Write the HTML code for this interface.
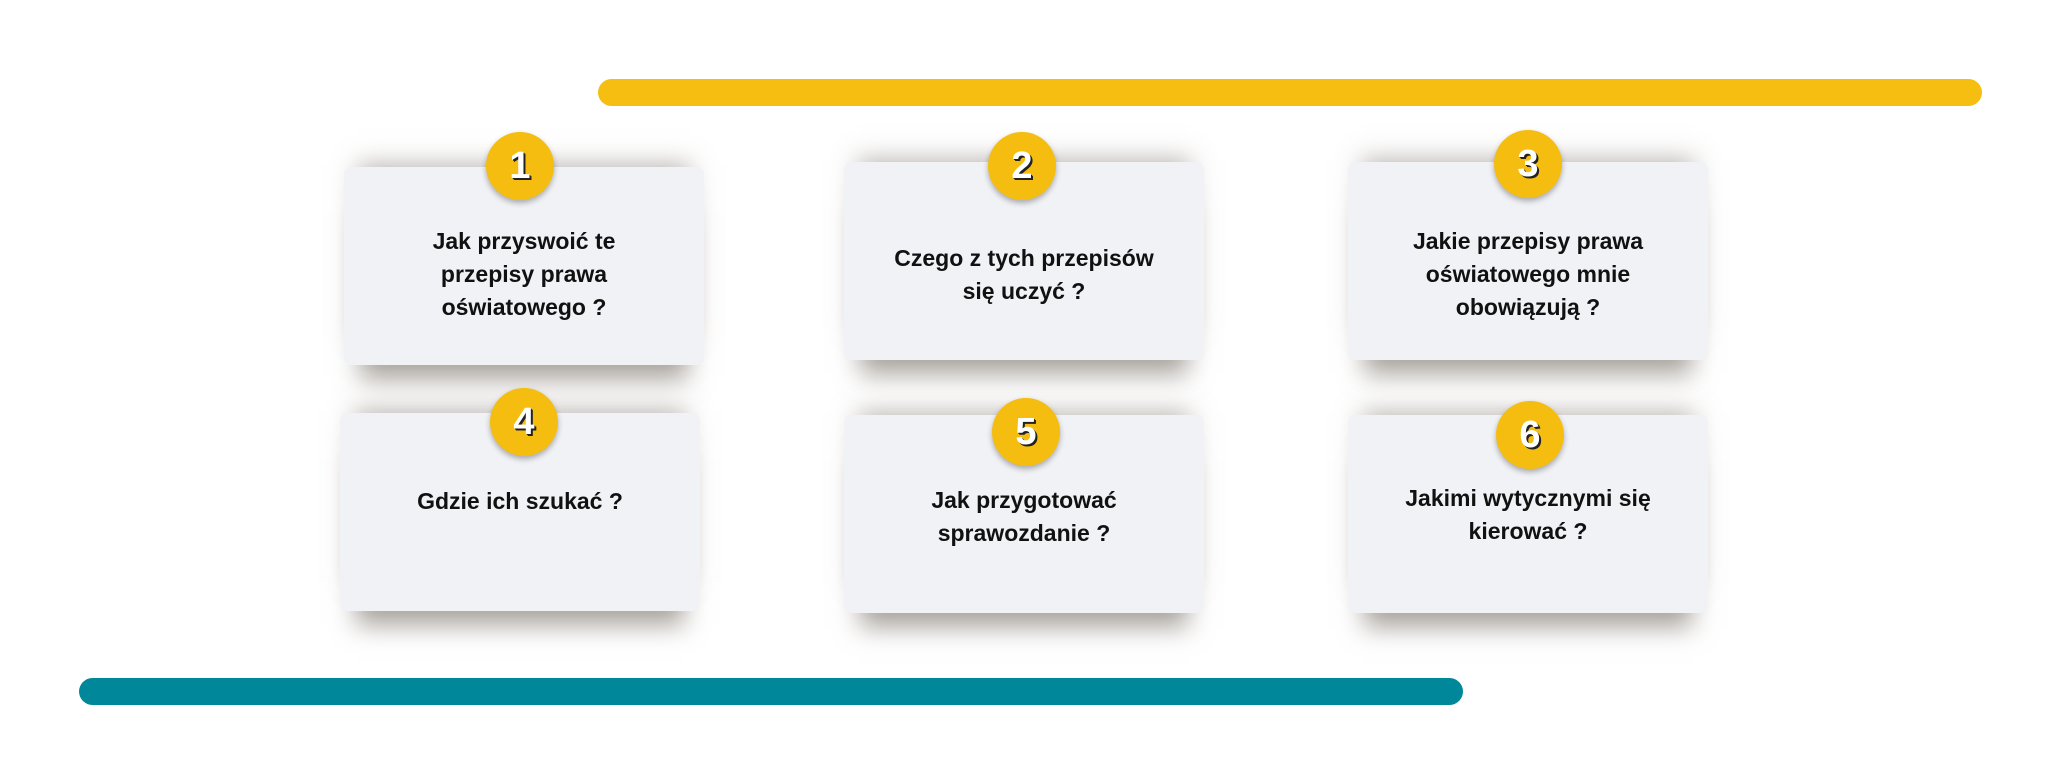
<!DOCTYPE html>
<html><head><meta charset="utf-8"><style>
html,body{margin:0;padding:0;background:#fff;width:2050px;height:780px;overflow:hidden;position:relative;font-family:"Liberation Sans",sans-serif}
.bar{position:absolute;height:27px;border-radius:14px}
.card{position:absolute;width:360px;height:198px;background:#f1f2f6;border-radius:7px;
box-shadow:0 30px 24px -16px rgba(110,100,90,.6),0 -16px 24px -14px rgba(110,100,90,.5)}
.t{position:absolute;left:0;width:360px;text-align:center;font-weight:bold;font-size:23px;line-height:33px;color:#111}
.c{position:absolute;width:68px;height:68px;border-radius:50%;background:#f4bd10;
box-shadow:0 3px 6px rgba(0,0,0,.3);color:#fff;font-weight:bold;font-size:38px;line-height:68px;text-align:center;
text-shadow:2px 2px 0 #222,1px 1px 0 #222}
</style></head><body>
<div class="bar" style="left:598px;top:79px;width:1384px;background:#f5be10"></div>
<div class="bar" style="left:79px;top:678px;width:1384px;background:#00889a"></div>

<div class="card" style="left:344px;top:167px"><div class="t" style="top:58px">Jak przyswoić te<br>przepisy prawa<br>oświatowego ?</div></div>
<div class="card" style="left:844px;top:162px"><div class="t" style="top:80px">Czego z tych przepisów<br>się uczyć ?</div></div>
<div class="card" style="left:1348px;top:162px"><div class="t" style="top:63px">Jakie przepisy prawa<br>oświatowego mnie<br>obowiązują ?</div></div>
<div class="card" style="left:340px;top:413px"><div class="t" style="top:72px">Gdzie ich szukać ?</div></div>
<div class="card" style="left:844px;top:415px"><div class="t" style="top:69px">Jak przygotować<br>sprawozdanie ?</div></div>
<div class="card" style="left:1348px;top:415px"><div class="t" style="top:67px">Jakimi wytycznymi się<br>kierować ?</div></div>

<div class="c" style="left:486px;top:132px">1</div>
<div class="c" style="left:988px;top:132px">2</div>
<div class="c" style="left:1494px;top:130px">3</div>
<div class="c" style="left:490px;top:388px">4</div>
<div class="c" style="left:992px;top:398px">5</div>
<div class="c" style="left:1496px;top:401px">6</div>
</body></html>
